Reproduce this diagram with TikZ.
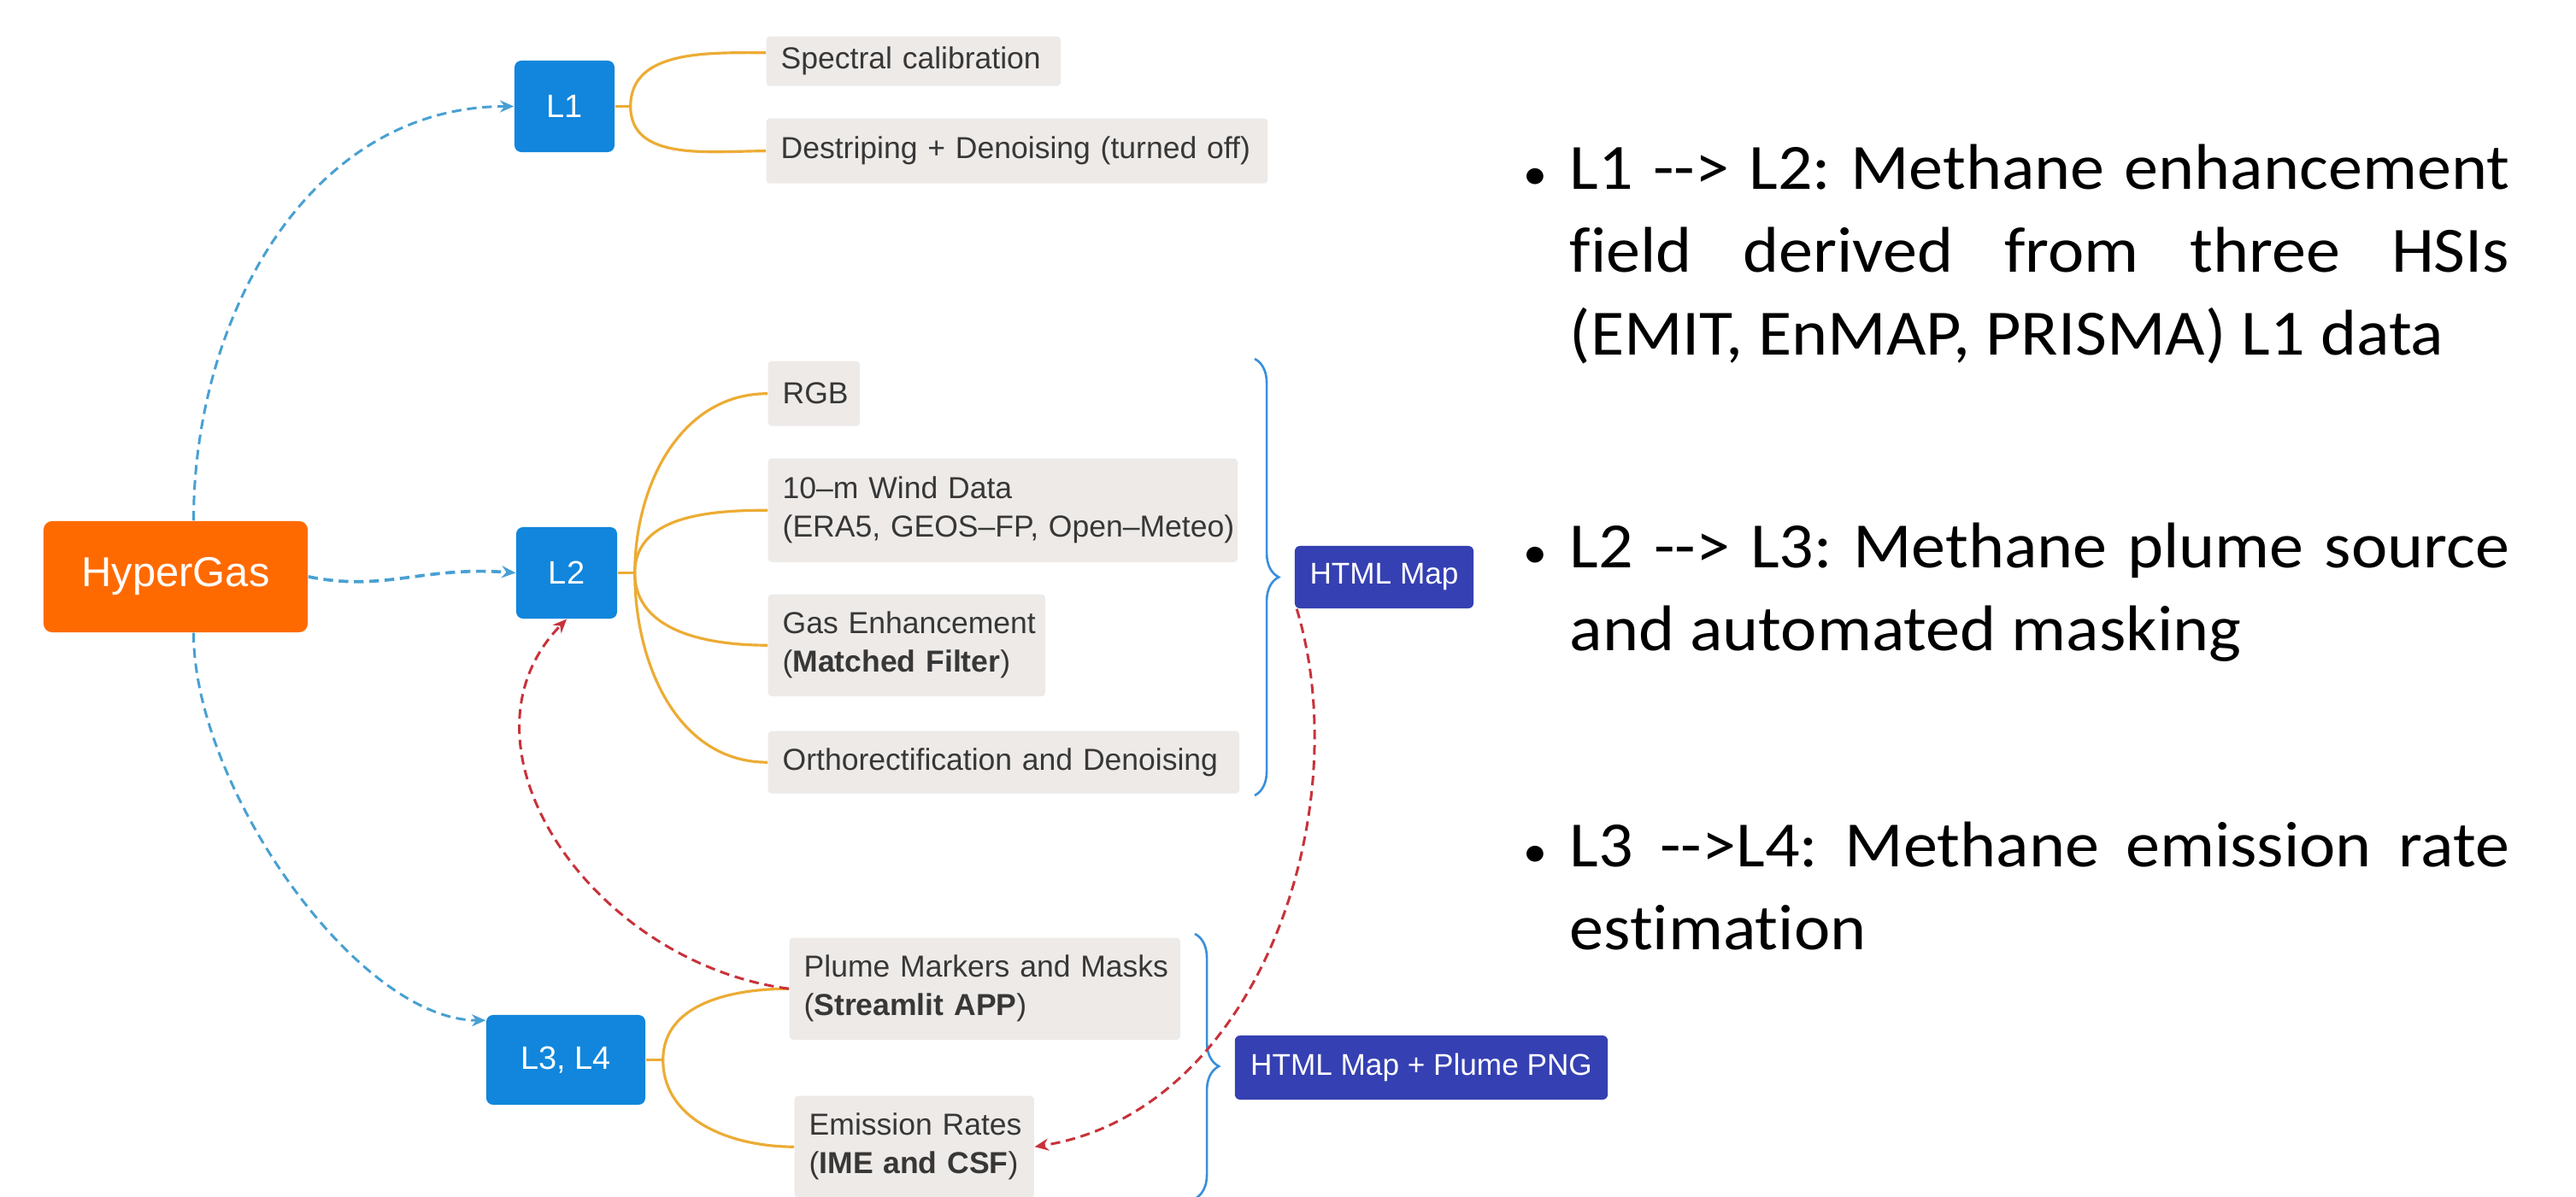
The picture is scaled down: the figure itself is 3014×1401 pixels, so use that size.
\documentclass[tikz,border=0pt]{standalone}
\usepackage{fontspec}
\setmainfont{Liberation Sans}
\newfontfamily\bulletfont[FakeStretch=1.06,Ligatures=NoCommon]{Carlito}
\usetikzlibrary{arrows.meta,decorations.pathreplacing,calc}

\definecolor{hgorange}{RGB}{255,106,0}
\definecolor{lblue}{RGB}{17,134,220}
\definecolor{mapblue}{RGB}{53,64,178}
\definecolor{itemgrey}{RGB}{237,234,232}
\definecolor{itemtext}{RGB}{55,55,55}
\definecolor{forkgold}{RGB}{236,172,52}
\definecolor{flowblue}{RGB}{72,160,210}
\definecolor{flowred}{RGB}{200,50,58}
\definecolor{bracecol}{RGB}{58,143,220}

\begin{document}
\frenchspacing
\begin{tikzpicture}[x=0.01cm, y=-0.01cm,
  rootbox/.style={fill=hgorange, rounded corners=0.1cm, text=white,
    font=\fontsize{13.9pt}{16pt}\selectfont, minimum width=3.09cm,
    minimum height=1.30cm, inner sep=0},
  levelbox/.style={fill=lblue, rounded corners=0.08cm, text=white,
    font=\fontsize{10.8pt}{13pt}\selectfont, minimum height=1.07cm, inner sep=0},
  itembox/.style={fill=itemgrey, rounded corners=0.04cm, text=itemtext,
    font=\fontsize{10.1pt}{12.8pt}\selectfont, align=left,
    inner xsep=0.17cm, inner ysep=0, anchor=north west},
  mapbox/.style={fill=mapblue, rounded corners=0.06cm, text=white,
    font=\fontsize{10pt}{12pt}\selectfont, inner sep=0},
  fork/.style={draw=forkgold, line width=0.9pt},
  flow/.style={line width=0.85pt, dash pattern=on 3.2pt off 1.9pt,
    -{Stealth[length=4.6pt,width=4pt]}},
  groupbrace/.style={draw=bracecol, line width=0.75pt, decorate,
    decoration={brace, amplitude=8pt}},
  bullettext/.style={font=\bulletfont\fontsize{21.5pt}{27.5pt}\selectfont,
    anchor=base west, inner sep=0, text=black}
]
\useasboundingbox (0,0) rectangle (3014,1401);
\fill[white] (0,0) rectangle (3014,1401);

% root and level nodes
\node[rootbox] (hg) at (205.5,675) {HyperGas};
\node[levelbox, minimum width=1.17cm] (l1) at (660.5,124.5) {L1};
\node[levelbox, minimum width=1.18cm] (l2) at (663,670.5) {L2};
\node[levelbox, minimum width=1.86cm, minimum height=1.05cm] (l34) at (662,1240.5) {L3, L4};

% L1 items
\node[itembox, text width=3.10cm, minimum height=0.58cm] (sp) at (896,42) {\mbox{Spectral calibration}};
\node[itembox, text width=5.52cm, minimum height=0.76cm] (ds) at (896,138) {\mbox{Destriping + Denoising (turned off)}};

% L2 items
\node[itembox, text width=0.73cm, minimum height=0.76cm] (rgb) at (898,422) {\mbox{RGB}};
\node[itembox, text width=5.15cm, minimum height=1.21cm] (wind) at (898,536)
  {\mbox{10–m Wind Data}\\\mbox{(ERA5, GEOS–FP, Open–Meteo)}};
\node[itembox, text width=2.90cm, minimum height=1.19cm] (gas) at (898,695)
  {\mbox{Gas Enhancement}\\\mbox{(\textbf{Matched Filter})}};
\node[itembox, text width=5.17cm, minimum height=0.73cm] (ortho) at (898,855)
  {\mbox{Orthorectification and Denoising}};

% L3/L4 items
\node[itembox, text width=4.23cm, minimum height=1.19cm] (plume) at (923,1097)
  {\mbox{Plume Markers and Masks}\\\mbox{(\textbf{Streamlit APP})}};
\node[itembox, text width=2.46cm, minimum height=1.19cm] (emis) at (929,1282)
  {\mbox{Emission Rates}\\\mbox{(\textbf{IME and CSF})}};

% outputs
\node[mapbox, minimum width=2.09cm, minimum height=0.73cm] (map) at (1619.5,675.5) {HTML Map};
\node[mapbox, minimum width=4.36cm, minimum height=0.75cm] (mappng) at (1663,1249.5) {HTML Map + Plume PNG};

% forks from level nodes to their items
\draw[fork] (l1.east) -- ++(18,0) coordinate (j1);
\draw[fork] (j1) to[out=90,in=180] ($(sp.west)+(0,-10)$);
\draw[fork] (j1) to[out=-90,in=180] (ds.west);

\draw[fork] (l2.east) -- ++(20,0) coordinate (j2);
\draw[fork] (j2) to[out=90,in=180] (rgb.west);
\draw[fork] (j2) to[out=90,in=180] (wind.west);
\draw[fork] (j2) to[out=-90,in=180] (gas.west);
\draw[fork] (j2) to[out=-90,in=180] (ortho.west);

\draw[fork] (l34.east) -- ++(20,0) coordinate (j3);
\draw[fork] (j3) to[out=90,in=180] (plume.west);
\draw[fork] (j3) to[out=-90,in=180] (emis.west);

% braces grouping the items
\coordinate (bra) at (1468,420);
\coordinate (brb) at (1468,931);
\coordinate (brc) at (1398,1093);
\coordinate (brd) at (1398,1403);
\draw[groupbrace] (bra) -- (brb);
\draw[groupbrace] (brc) -- (brd);

% processing flow
\draw[flow, draw=flowblue, line width=1.05pt] (hg.east) .. controls ($(hg.east)+(90,18)$) and ($(l2.west)+(-110,-8)$) .. (l2.west);
\draw[flow, draw=flowblue] ($(hg.north)+(21,0)$) to[out=90,in=180] (l1.west);
\draw[flow, draw=flowblue] ($(hg.south)+(21,0)$) .. controls ($(hg.south)+(21,180)$) and ($(l34.north west)+(-150,7)$) .. ($(l34.north west)+(0,7)$);

\draw[flow, draw=flowred] (plume.west) .. controls ($(plume.west)+(-233,-31)$) and ($(l2.south)+(-143,146)$) .. (l2.south);
\draw[flow, draw=flowred] ($(map.south west)+(3,0)$) .. controls ($(map.south west)+(75,238)$) and ($(emis.east)+(261,-41)$) .. (emis.east);

% notes
\newcommand{\notedot}{\llap{{\fontsize{15pt}{15pt}\selectfont •}\hspace{0.26cm}}}
\node[bullettext] (n1) at (1836,222) {\notedot\parbox[t]{10.99cm}{%
  \makebox[\linewidth][s]{L1 -{}-> L2: Methane enhancement}\\
  \makebox[\linewidth][s]{field derived from three HSIs}\\
  (EMIT, EnMAP, PRISMA) L1 data}};
\node[bullettext] (n2) at (1836,665) {\notedot\parbox[t]{10.99cm}{%
  \makebox[\linewidth][s]{L2 -{}-> L3: Methane plume source}\\
  and automated masking}};
\node[bullettext] (n3) at (1836,1015) {\notedot\parbox[t]{10.99cm}{%
  \makebox[\linewidth][s]{L3 -{}->L4: Methane emission rate}\\
  estimation}};
\end{tikzpicture}
\end{document}
